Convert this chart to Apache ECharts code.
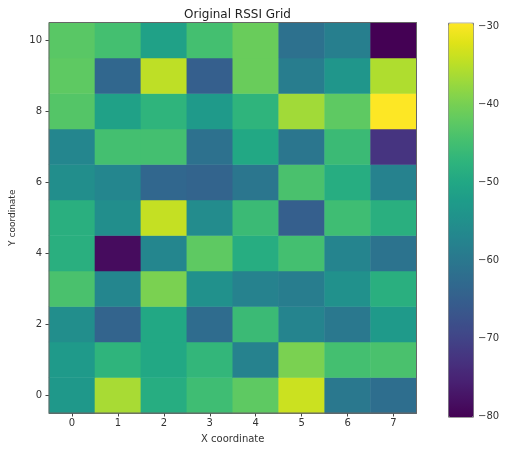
<!DOCTYPE html>
<html><head><meta charset="utf-8">
<script src="https://cdn.jsdelivr.net/npm/echarts@6/dist/echarts.min.js"></script>
<style>html,body{margin:0;padding:0;background:#fff}#c{width:506px;height:449px}</style>
</head><body><div id="c"></div>
<script>
const xCategories = ['0','1','2','3','4','5','6','7'];
const yCategories = ['0','1','2','3','4','5','6','7','8','9','10'];
// RSSI rows, index = y coordinate (0 at bottom), each row x = 0..7
const row0  = [-53.2, -36.1, -48.7, -45.2, -42.1, -33.5, -59.8, -61.8];
const row1  = [-52.7, -47.2, -49.7, -46.7, -57.8, -39.6, -44.7, -44.1];
const row2  = [-55.3, -63.8, -49.7, -62.3, -45.7, -57.3, -59.8, -52.7];
const row3  = [-44.1, -56.8, -39.6, -54.8, -57.8, -58.8, -54.8, -48.2];
const row4  = [-48.2, -78.5, -56.8, -42.1, -48.7, -44.7, -57.3, -60.8];
const row5  = [-48.2, -55.3, -34.0, -55.8, -45.7, -64.9, -45.2, -48.2];
const row6  = [-55.3, -56.8, -63.3, -63.8, -60.3, -44.1, -48.7, -57.8];
const row7  = [-56.8, -44.7, -44.7, -61.3, -49.7, -60.3, -45.7, -72.4];
const row8  = [-43.1, -51.2, -47.2, -52.7, -47.2, -36.6, -42.1, -29.5];
const row9  = [-42.1, -63.3, -34.5, -64.9, -41.1, -58.8, -53.7, -35.6];
const row10 = [-42.6, -44.7, -51.2, -44.7, -41.1, -61.3, -58.3, -80.0];
const rows = [row0,row1,row2,row3,row4,row5,row6,row7,row8,row9,row10];
const colorMin = -80, colorMax = -29.5;
const colorTicks = [-80, -70, -60, -50, -40, -30];
const viridis = ['#440154','#471365','#482475','#463480','#414487','#3b528b','#355f8d','#2f6c8e','#2a788e','#25848e','#21918c','#1e9c89','#22a884','#2fb47c','#44bf70','#5ec962','#7ad151','#9bd93c','#bddf26','#dfe318','#fde725'];

const data = [];
rows.forEach((r, y) => r.forEach((v, x) => data.push([x, y, v])));

const font = 'DejaVu Sans';
const txt = '#333';
const chart = echarts.init(document.getElementById('c'));
chart.setOption({
  backgroundColor: '#fff',
  animation: false,
  textStyle: { fontFamily: font },
  title: { text: 'Original RSSI Grid', left: 232.5, textAlign: 'center', top: 4,
    textStyle: { fontFamily: font, fontSize: 12, fontWeight: 'normal', color: '#222' } },
  grid: [
    { left: 48, top: 22.5, width: 368.5, height: 394, show: true, borderColor: '#666', borderWidth: 1, backgroundColor: 'transparent', z: 5 },
    { left: 448, top: 26.3, width: 25, height: 390.4, show: false }
  ],
  xAxis: [
    { type: 'category', gridIndex: 0, data: xCategories, splitArea: { show: false },
      axisLine: { show: true, lineStyle: { color: '#666' } },
      axisTick: { show: true, alignWithLabel: true, length: 3.5, lineStyle: { color: '#444' } },
      axisLabel: { color: txt, fontSize: 10, margin: 5, fontFamily: font },
      name: 'X coordinate', nameLocation: 'middle', nameGap: 21,
      nameTextStyle: { color: txt, fontSize: 10, fontFamily: font } },
    { type: 'value', gridIndex: 1, show: false }
  ],
  yAxis: [
    { type: 'category', gridIndex: 0, data: yCategories, splitArea: { show: false },
      axisLine: { show: true, lineStyle: { color: '#666' } },
      axisTick: { show: true, alignWithLabel: true, interval: 1, length: 3.5, lineStyle: { color: '#444' } },
      axisLabel: { color: txt, fontSize: 10, margin: 7, interval: 1, fontFamily: font },
      name: 'Y coordinate', nameLocation: 'middle', nameGap: 32,
      nameTextStyle: { color: txt, fontSize: 9, fontFamily: font } },
    { type: 'value', gridIndex: 1, position: 'right', min: -80, max: -30, interval: 10,
      axisLine: { show: false },
      axisTick: { show: true, length: 3.5, lineStyle: { color: '#444' } },
      axisLabel: { color: txt, fontSize: 10, margin: 5, fontFamily: font,
        formatter: v => colorTicks.includes(v) ? String(v).replace('-', '\u2212') : '' },
      splitLine: { show: false } }
  ],
  visualMap: {
    type: 'continuous', min: colorMin, max: colorMax, seriesIndex: 0,
    calculable: false, realtime: false, orient: 'vertical',
    left: 448, top: 22.7, itemWidth: 25, itemHeight: 394, padding: 0,
    borderColor: '#777', borderWidth: 1, text: null, showLabel: false,
    inRange: { color: viridis }
  },
  series: [{
    type: 'heatmap', xAxisIndex: 0, yAxisIndex: 0, data: data,
    itemStyle: { borderWidth: 0 }, emphasis: { disabled: true }
  }]
});
</script></body></html>
